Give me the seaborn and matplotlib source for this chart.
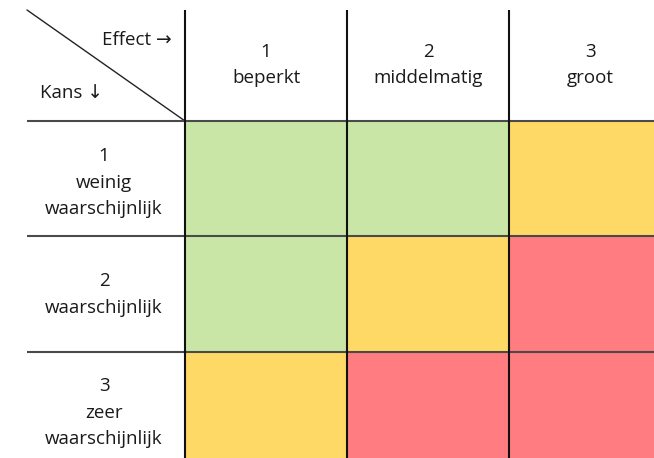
import numpy as np
import matplotlib
matplotlib.use("Agg")
import matplotlib.pyplot as plt
from matplotlib.colors import ListedColormap
import seaborn as sns

sns.set_theme(style="white")
plt.rcParams['font.family'] = ['Open Sans', 'DejaVu Sans']

# --- data -------------------------------------------------------------
effect_nums = ["1", "2", "3"]
effect_names = ["beperkt", "middelmatig", "groot"]
kans_labels = [["1", "weinig", "waarschijnlijk"],
               ["2", "waarschijnlijk"],
               ["3", "zeer", "waarschijnlijk"]]
# risk level per cell: 0 = laag (groen), 1 = middel (geel), 2 = hoog (rood)
risk_level = [[0, 0, 1],
              [0, 1, 2],
              [1, 2, 2]]
risk_colors = ["#C9E6A7", "#FFD966", "#FF7C80"]

# --- layout (pixels) --------------------------------------------------
W, H = 654, 458
left, top = 27, 10          # top-left corner of the table
head_w, head_h = 158, 111    # header column / header row size
col_w, row_h = 162, 115

fig = plt.figure(figsize=(W / 100, H / 100), dpi=100)

# heatmap cells, placed in pixel space (table runs off the right/bottom)
x0 = left + head_w
y0 = top + head_h
hm_ax = fig.add_axes([x0 / W, 1 - (y0 + 3 * row_h) / H,
                      3 * col_w / W, 3 * row_h / H])
sns.heatmap(np.array(risk_level), ax=hm_ax, cmap=ListedColormap(risk_colors),
            vmin=-0.5, vmax=2.5, cbar=False, xticklabels=False,
            yticklabels=False, linewidths=0)
hm_ax.set_axis_off()

# overlay for lines and text
ax = fig.add_axes([0, 0, 1, 1])
ax.set_xlim(0, W)
ax.set_ylim(H, 0)
ax.patch.set_visible(False)
ax.set_axis_off()

# diagonal in the corner cell
ax.plot([left, x0], [top, y0], color="#222222", lw=1.0)
# horizontal rules
for i in range(3):
    y = y0 + i * row_h + (1 if i == 2 else 0)
    ax.plot([left, W + 20], [y, y], color="#4a4a4a", lw=1.5, solid_capstyle="butt")
# vertical rules
for j in range(3):
    x = x0 + j * col_w
    ax.plot([x, x], [top, H + 20], color="#111111", lw=1.5, solid_capstyle="butt")

fs = 13.5
tc = "#1a1a1a"
gap = 26.5
# corner labels
ax.text(172, 45, "Effect \u2192", ha="right", va="baseline", fontsize=fs, color=tc)
ax.text(40, 98, "Kans \u2193", ha="left", va="baseline", fontsize=fs, color=tc)

# column headers
for j in range(3):
    cx = x0 + (j + 0.5) * col_w
    cy = top + head_h / 2 + 4.5
    ax.text(cx, cy - gap / 2, effect_nums[j], ha="center", va="baseline",
            fontsize=fs, color=tc)
    ax.text(cx, cy + gap / 2, effect_names[j], ha="center", va="baseline",
            fontsize=fs, color=tc)

# row headers
cx = left + head_w / 2 - 2
row_shift = [9, 6, 9]
for i, lines in enumerate(kans_labels):
    n = len(lines)
    cy = y0 + (i + 0.5) * row_h + row_shift[i]
    for k, s in enumerate(lines):
        ax.text(cx, cy + (k - (n - 1) / 2) * gap, s, ha="center", va="baseline",
                fontsize=fs, color=tc)

fig.savefig("out.png", dpi=100)
